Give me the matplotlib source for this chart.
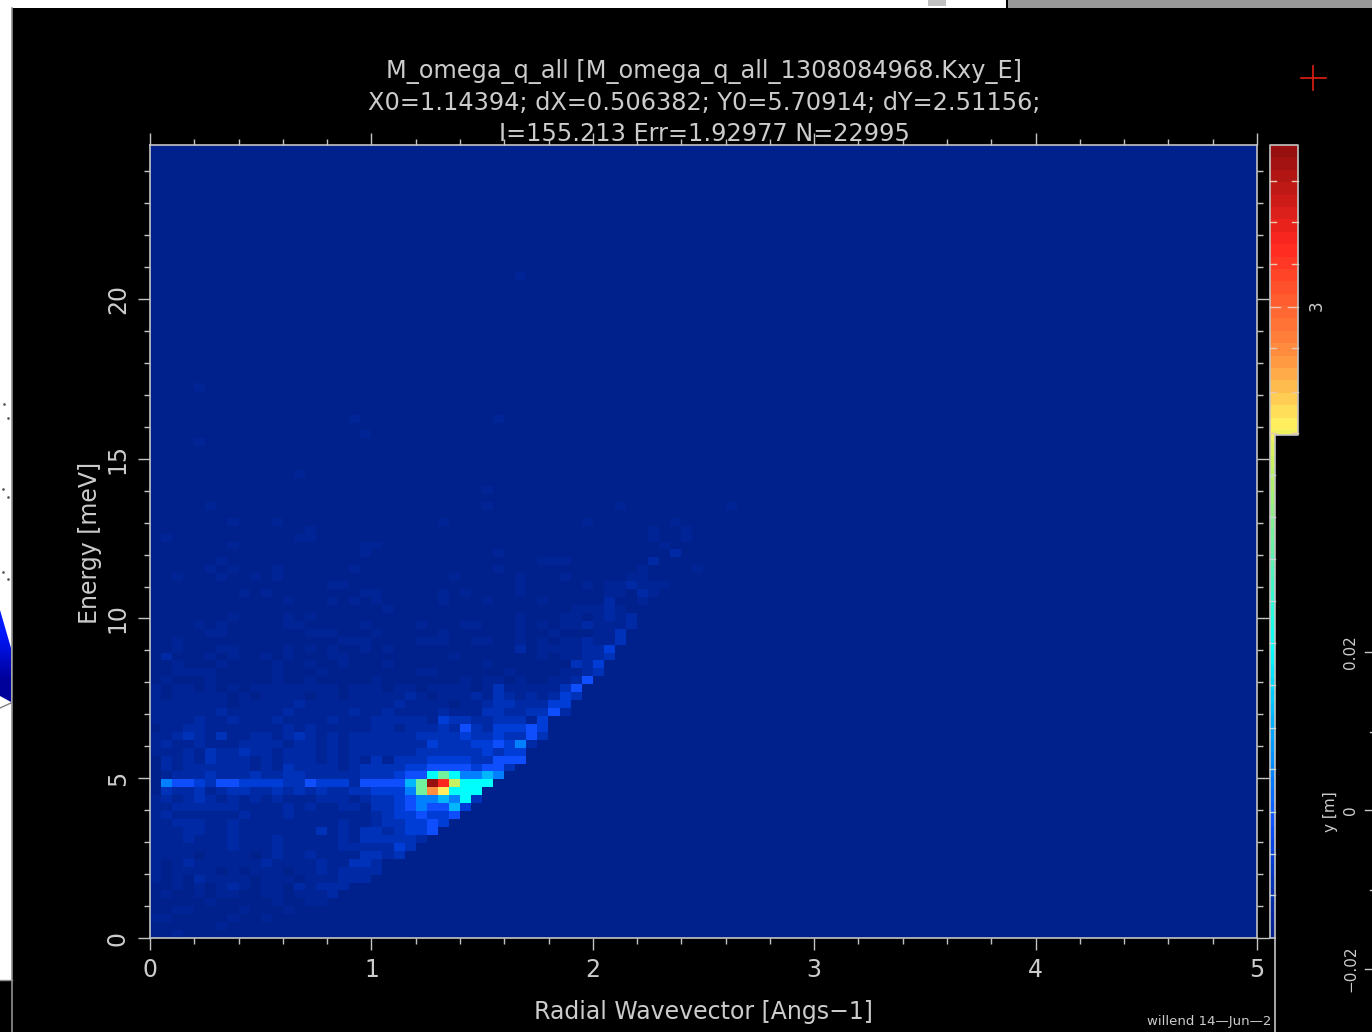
# McStas style monitor picture, M_omega_q_all

import numpy as np
import matplotlib
matplotlib.use('Agg')
import matplotlib.pyplot as plt
from matplotlib.colors import LinearSegmentedColormap
from matplotlib.patches import Polygon, Rectangle

# Levels, one character per cell, row 0 at the bottom
# (0 = background ... e = peak)
cell_rows = [
    "0010000000",
    "0000001000",
    "1100000100 1",
    "0011000010 0010",
    "0000010000 0100110",
    "0100101100 1101112",
    "0010101210 1102122 2",
    "1010211110 1110111222",
    "1011110101 1101121222 2",
    "1012111111 2111121133 2",
    "1111011110 1211211113 323",
    "1111111211 1211111222 2243",
    "1112111211 1211111213 33332",
    "1112211211 1111131213 323445",
    "1122211211 1111111211 2334454",
    "1211111121 1121111111 23445445",
    "1122222211 1121211221 334565574",
    "1212321212 1211122212 3345667683",
    "0322312332 2323232233 4446 9cb888",
    "0655435544 4433544425 5557 9eda888",
    "0122232223 2233222223 334558986676",
    "0212222221 2132222123 3334455554553",
    "0212132221 2122212121 31333444433555",
    "1112132232 2122212122 22223333334344",
    "1211211122 2212212122 222224333445462",
    "1123213112 2123212122 2222333343343353",
    "0112211111 1121211111 22122232 53244454",
    "1111211211 1211112111 2222214332233314",
    "1111112111 1121111121 1211112111 33223352",
    "1111111011 1112111111 1121111011 23322244",
    "1011111010 1111011011 1112101112 132121243",
    "1011010101 1111111011 1011011110 131111135",
    "0100010000 0100100000 1000000010 1101001125",
    "0011110000 0100010000 0000110000 0010000112 3",
    "0010001000 0100100100 0100000000 1000000032 4",
    "0200010100 1010001100 0000000100 0000010112 23",
    "0010001100 0010101001 0100000000 0002011112 24",
    "0010000000 0000000111 0000111001 1001010112 113",
    "0000011000 0000111000 1000001000 0001001000 113",
    "0000101000 0011000001 0000100011 0001010112 1112",
    "0000000100 0010100000 0000000000 0001000110 1212",
    "0000000000 0000000000 0100000000 0000000011 1210",
    "0000000000 0010001010 1000001000 1000010000 02001",
    "0000000010 1000000001 1000001010 0001000000 011021",
    "0000000000 0000001100 0000000000 0001000001 0112111",
    "0010001001 0100000000 0000000100 0001000100 0001100",
]

# Isolated faint cells higher up
spot_cols = [5, 7, 11, 18, 31, 44, 49, 6, 35, 36, 37, 45, 19, 31, 47, 7, 19, 20, 46,
             1, 13, 14, 45, 48, 14, 45, 48, 7, 11, 26, 39, 47, 5, 30, 42, 52, 30, 13,
             4, 19, 18, 31, 4, 33]
spot_rows = [46, 46, 46, 46, 46, 46, 46, 47, 47, 47, 47, 47, 48, 48, 48, 49, 49, 49, 49,
             50, 50, 50, 50, 50, 51, 51, 51, 52, 52, 52, 52, 52, 54, 54, 54, 54, 56, 58,
             62, 63, 65, 65, 69, 83]
spot_levels = [1, 1, 1, 1, 1, 1, 1, 1, 1, 1, 1, 2, 1, 1, 2, 1, 1, 1, 1,
               1, 1, 1, 1, 1, 1, 1, 1, 1, 1, 1, 1, 1, 1, 1, 1, 1, 1, 1,
               1, 1, 1, 1, 1, 1]

# Position of each level on the colour scale and its colour
level_values = [0, .015, .04, .07, .10, .14, .20, .28, .36, .50, .60, .65, .74, .88, 1.0]
level_colors = ['#00218c', '#00259a', '#002ba6', '#0033bc', '#003ed8', '#1050ff', '#0080ff',
                '#00b8ff', '#00ffff', '#70f0a0', '#c8f060', '#fff060', '#ff9040', '#ff2820',
                '#961010']

x_max = 5.0
y_max = 24.82
n_bins = 100
x_major = [0, 1, 2, 3, 4, 5]
y_major = [0, 5, 10, 15, 20]
bar_ticks_px = [181, 222, 264, 348, 392, 433, 475, 517, 559, 601, 643, 685, 728, 769, 812, 854, 895]

title_lines = ['M_omega_q_all [M_omega_q_all_1308084968.Kxy_E]',
               'X0=1.14394; dX=0.506382; Y0=5.70914; dY=2.51156;',
               'I=155.213 Err=1.92977 N=22995']

fg = '#cccccc'
line = '#c4c4c4'
plt.rcParams['font.family'] = 'DejaVu Sans'

cmap = LinearSegmentedColormap.from_list('mon', list(zip(level_values, level_colors)), N=256)
cmap_bar = LinearSegmentedColormap.from_list('monbar', list(zip(level_values, level_colors)), N=64)

grid = np.zeros((n_bins, n_bins))
for r, row in enumerate(cell_rows):
    for c, ch in enumerate(row.replace(' ', '')):
        grid[r, c] = level_values[int(ch, 36)]
for c, r, l in zip(spot_cols, spot_rows, spot_levels):
    grid[r, c] = level_values[l]

W, H = 1372, 1032
fig = plt.figure(figsize=(W / 100, H / 100), dpi=100, facecolor='black')

# Pixel overlay for everything around the plot (windows behind the screenshot, colour bar)
bg = fig.add_axes([0, 0, 1, 1], zorder=0)
bg.set_xlim(0, W)
bg.set_ylim(H, 0)
bg.axis('off')
bg.add_patch(Rectangle((0, 0), 1006, 8, color='white', lw=0))
bg.add_patch(Rectangle((1008, 0), W - 1008, 8, color='#989898', lw=0))
bg.add_patch(Rectangle((928, 0), 18, 6, color='#c0c0c0', lw=0))
bg.add_patch(Rectangle((0, 0), 12, 980, color='white', lw=0))
bg.plot([12, 12], [8, H], color='#909090', lw=1.2)
bg.plot([0, 12], [980, 980], color='#909090', lw=1)

# blue shape cut off at the left edge
shape = Polygon([(0, 610), (11, 648), (11, 702), (0, 696)], closed=True, transform=bg.transData,
                fc='none', ec='none')
bg.add_patch(shape)
blue = bg.imshow(np.array([[0.0], [1.0]]), extent=[0, 12, 702, 610], aspect='auto', zorder=2,
                 interpolation='bilinear',
                 cmap=LinearSegmentedColormap.from_list('b', ['#0018ff', '#00009a']))
blue.set_clip_path(shape)
bg.set_xlim(0, W)
bg.set_ylim(H, 0)
bg.plot([0, 11], [708, 703], color='#808080', lw=1, zorder=3)
bg.plot([4, 8, 3, 8, 3, 8], [404, 418, 489, 497, 572, 579], ls='none', marker='s', ms=0.8,
        color='#505050', zorder=3)

# colour bar: wide part on top, the rest hidden behind the other window
bar_levels = np.linspace(1, 0, 256).reshape(-1, 1)
bg.imshow(bar_levels, extent=[1270, 1298, 938, 145], aspect='auto', cmap=cmap_bar,
          interpolation='nearest', zorder=1)
bg.set_xlim(0, W)
bg.set_ylim(H, 0)
bg.add_patch(Rectangle((1275, 435), 30, 520, color='black', lw=0, zorder=2))
bg.plot([1270, 1270, 1298, 1298, 1275, 1275], [938, 145, 145, 435, 435, H], color=line, lw=1.2, zorder=3)
bg.plot([1270, 1275], [938, 938], color=line, lw=1.2, zorder=3)
for y in bar_ticks_px:
    if y < 435:
        bg.plot([1270, 1276], [y, y], color='#e8c8b0', lw=1, zorder=3)
        bg.plot([1292, 1298], [y, y], color='#e8c8b0', lw=1, zorder=3)
    else:
        bg.plot([1270, 1275], [y, y], color='#c8d8d8', lw=1, zorder=3)
bg.plot([1270, 1280], [307, 307], color='#e8c8b0', lw=1, zorder=3)
bg.plot([1288, 1298], [307, 307], color='#e8c8b0', lw=1, zorder=3)
bg.text(1317, 306, '3', color=fg, fontsize=12, rotation=90, ha='center', va='center', zorder=3)

# scale of the window on the right
for y, lab in zip([652, 810, 969], ['0.02', '0', '\u22120.02']):
    bg.plot([1365, W], [y, y], color=line, lw=1, zorder=3)
    bg.text(1351, y, lab, color=fg, fontsize=11, rotation=90, ha='center', va='center', zorder=3)
for y in [732, 890]:
    bg.plot([1370, W], [y, y], color=line, lw=1, zorder=3)
bg.text(1331, 812, 'y [m]', color=fg, fontsize=11, rotation=90, ha='center', va='center', zorder=3)

# small red cross
bg.plot([1301, 1326], [78, 78], color='#e02010', lw=1.2)
bg.plot([1313, 1313], [66, 90], color='#e02010', lw=1.2)

# Main map
ax = fig.add_axes([150 / W, (H - 938) / H, 1107 / W, 793 / H], zorder=1, facecolor='#00218c')
ax.imshow(grid, origin='lower', extent=[0, x_max, 0, y_max], aspect='auto', cmap=cmap,
          vmin=0, vmax=1, interpolation='nearest')
ax.set_xlim(0, x_max)
ax.set_ylim(0, y_max)
ax.set_xticks(x_major)
ax.set_yticks(y_major)
ax.set_xticks(np.arange(0, 5.01, 0.2), minor=True)
ax.set_yticks(np.arange(0, 24.5, 1), minor=True)
ax.tick_params(which='major', direction='out', length=8.5, width=1, color=line, top=True, right=True,
               labelcolor=fg, labelsize=17)
ax.tick_params(which='minor', direction='out', length=4, width=1, color=line, top=True, right=True)
ax.tick_params(axis='x', which='major', pad=6)
ax.tick_params(axis='y', which='major', pad=6)
for lab in ax.get_yticklabels():
    lab.set_rotation(90)
    lab.set_va('center')
for s in ax.spines.values():
    s.set_color(line)
    s.set_linewidth(1.2)

# Texts on top of the axes ticks
top = fig.add_axes([0, 0, 1, 1], zorder=2)
top.set_xlim(0, W)
top.set_ylim(H, 0)
top.axis('off')
top.patch.set_alpha(0)
for y, t in zip([72, 103, 134], title_lines):
    top.text(704, y, t, color=fg, fontsize=17.3, ha='center', va='center')
top.text(703, 1012, 'Radial Wavevector [Angs\u22121]', color=fg, fontsize=17, ha='center', va='center')
top.text(90, 543, 'Energy [meV]', color=fg, fontsize=17, rotation=90, ha='center', va='center')
top.text(1147, 1022, 'willend 14\u2014Jun\u20142', color=fg, fontsize=9.5, ha='left', va='center')

fig.savefig('out.png', dpi=100, facecolor='black')
